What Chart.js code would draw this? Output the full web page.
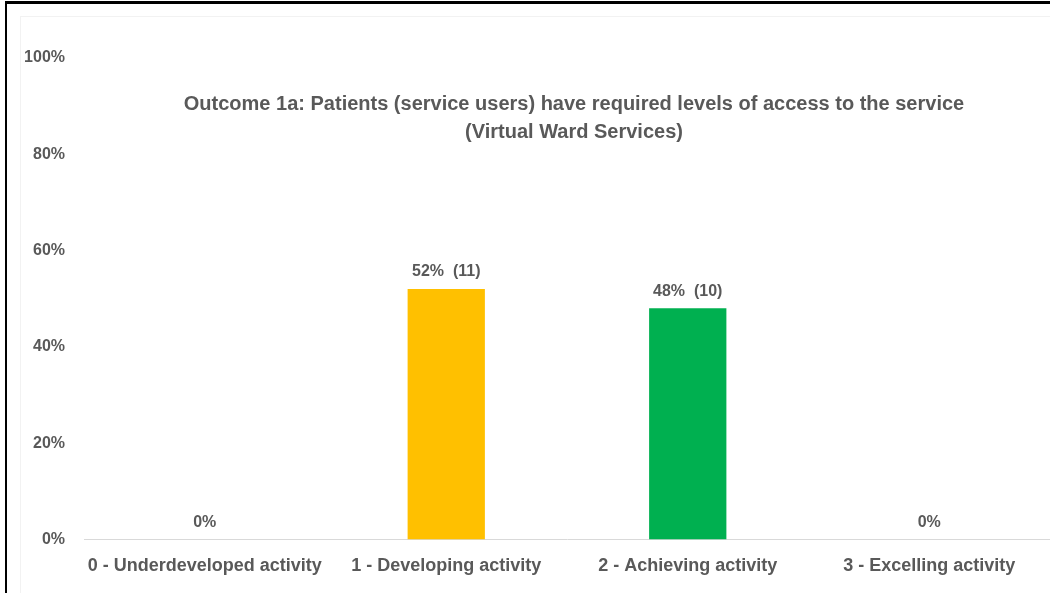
<!DOCTYPE html>
<html>
<head>
<meta charset="utf-8">
<script src="https://cdn.jsdelivr.net/npm/chart.js@4.4.1/dist/chart.umd.min.js"></script>
<style>
  html, body { margin: 0; padding: 0; background: #fff; }
  #wrap { position: relative; width: 1050px; height: 593px; overflow: hidden; }
  #frameTop { position: absolute; left: 5px; top: 1px; width: 1045px; height: 3px; background: #000; }
  #frameLeft { position: absolute; left: 5px; top: 1px; width: 2px; height: 592px; background: #000; }
  #inner { position: absolute; left: 20px; top: 16px; width: 1040px; height: 600px; border: 1px solid #f2f2f2; }
  canvas { position: absolute; left: 0; top: 0; }
</style>
</head>
<body>
<div id="wrap">
  <div id="inner"></div>
  <canvas id="myChart" width="1050" height="593"></canvas>
  <div id="frameTop"></div>
  <div id="frameLeft"></div>
</div>
<script>
var categories = ["0 - Underdeveloped activity", "1 - Developing activity", "2 - Achieving activity", "3 - Excelling activity"];
var percentages = [0, 52, 48, 0];
var counts = [0, 11, 10, 0];
var barColors = ['#FFC000', '#FFC000', '#00B050', '#00B050'];
var yTicks = [0, 20, 40, 60, 80, 100];
var titleLines = ["Outcome 1a: Patients (service users) have required levels of access to the service", "(Virtual Ward Services)"];

var textGrey = '#595959';
var fontFamily = '"Liberation Sans", Arial, sans-serif';

// title sits inside the plot area, under the 100% line
var titleInside = {
    id: 'titleInside',
    afterDraw: function (chart) {
        var c = chart.ctx, a = chart.chartArea;
        c.save();
        c.fillStyle = textGrey;
        c.font = 'bold 20px ' + fontFamily;
        c.textAlign = 'center';
        c.textBaseline = 'middle';
        var cx = (a.left + a.right) / 2 + 7;
        titleLines.forEach(function (line, i) {
            c.fillText(line, cx, a.top + 46 + i * 28);
        });
        c.restore();
    }
};

// value labels above each bar: "52% (11)", or just "0%"
var barLabels = {
    id: 'barLabels',
    afterDatasetsDraw: function (chart) {
        var c = chart.ctx;
        var meta = chart.getDatasetMeta(0);
        c.save();
        c.fillStyle = textGrey;
        c.font = 'bold 16px ' + fontFamily;
        c.textAlign = 'center';
        c.textBaseline = 'middle';
        meta.data.forEach(function (bar, i) {
            var txt = percentages[i] + '%';
            if (counts[i] > 0) txt += '  (' + counts[i] + ')';
            c.fillText(txt, bar.x, bar.y - 17);
        });
        c.restore();
    }
};

var ctx = document.getElementById('myChart').getContext('2d');
var chart1 = new Chart(ctx, {
    type: 'bar',
    data: {
        labels: categories,
        datasets: [{
            data: percentages,
            backgroundColor: barColors,
            borderWidth: 0,
            categoryPercentage: 1.0,
            barPercentage: 0.32
        }]
    },
    options: {
        responsive: false,
        animation: false,
        layout: { padding: { top: 58, right: 0, bottom: 0, left: 0 } },
        plugins: {
            legend: { display: false },
            title: { display: false },
            tooltip: { enabled: false }
        },
        scales: {
            y: {
                min: 0,
                max: 100,
                afterFit: function (scale) { scale.width = 84; },
                afterBuildTicks: function (scale) {
                    scale.ticks = yTicks.map(function (v) { return { value: v }; });
                },
                grid: { display: false, drawTicks: false },
                border: { display: false },
                ticks: {
                    padding: 19,
                    color: textGrey,
                    font: { family: fontFamily, size: 16, weight: 'bold' },
                    callback: function (v) { return v + '%'; }
                }
            },
            x: {
                grid: { display: false, drawTicks: false },
                border: { display: true, color: '#d9d9d9', width: 1 },
                ticks: {
                    padding: 16,
                    maxRotation: 0,
                    autoSkip: false,
                    color: textGrey,
                    font: { family: fontFamily, size: 18, weight: 'bold' }
                }
            }
        }
    },
    plugins: [titleInside, barLabels]
});
</script>
</body>
</html>
